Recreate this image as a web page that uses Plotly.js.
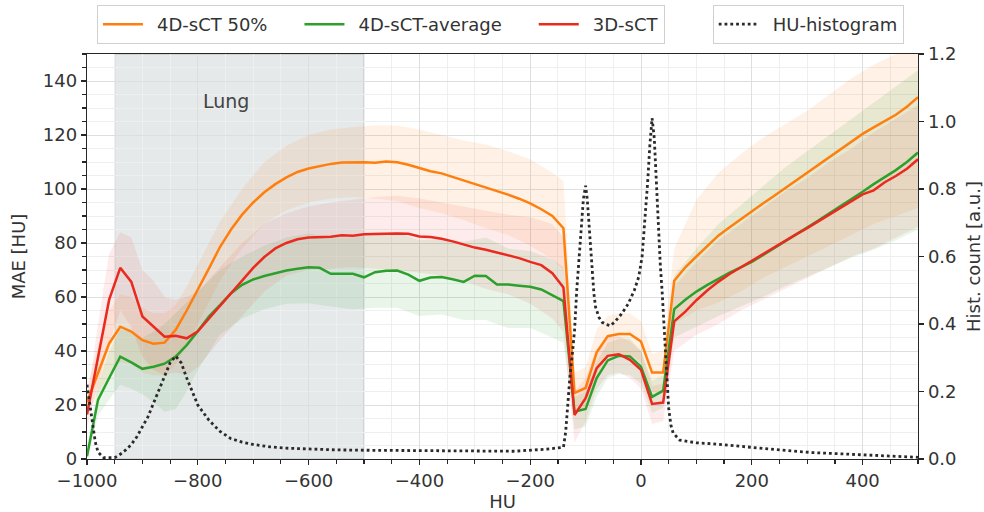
<!DOCTYPE html>
<html>
<head>
<meta charset="utf-8">
<script src="https://cdn.plot.ly/plotly-3.0.1.min.js"></script>
<style>html,body{margin:0;padding:0;background:#fff;}#chart{width:984px;height:512px;}</style>
</head>
<body>
<div id="chart"></div>
<script>
// HU bin centres for the MAE curves
const hu = [-1000,-980,-960,-940,-920,-900,-880,-860,-840,-820,-800,
  -780,-760,-740,-720,-700,-680,-660,-640,-620,-600,
  -580,-560,-540,-520,-500,-480,-460,-440,-420,-400,
  -380,-360,-340,-320,-300,-280,-260,-240,-220,-200,
  -180,-160,-140,-120,-100,-80,-60,-40,-20,0,
  20,40,60,80,100,120,140,160,180,200,
  220,240,260,280,300,320,340,360,380,400,
  420,440,460,480,500];

const mae4d50 = [21,32,42.8,49,47.2,44,42.7,43.1,47.8,55,62.5,
  70.5,78.5,85,90.5,95,98.8,101.8,104.3,106.3,107.6,
  108.5,109.3,109.8,109.9,109.9,109.7,110.2,109.9,109,107.8,
  106.6,105.8,104.5,103.2,101.8,100.5,99.2,97.9,96.4,94.7,
  92.5,90,85.5,24.5,26.3,39.5,45.5,46.3,46.3,43.5,
  32,32,66,71,75,79,82.8,85.8,88.8,91.7,
  94.6,97.4,100.3,103.1,106,108.9,111.7,114.6,117.6,120.4,
  122.8,125.2,127.5,130.5,134];

const mae4dAvg = [1,22,30,37.9,35.8,33.4,34.2,35.3,37.9,42.2,47.3,
  52.8,57,61.4,64.5,66.5,67.8,68.8,69.8,70.5,71,
  70.8,68.6,68.6,68.6,67.3,69.2,69.7,69.8,68.3,66,
  67.2,67.4,66.6,65.6,67.9,67.8,64.6,64.6,64.2,63.8,
  62.8,60.8,58.5,17.5,18.5,30,36.5,38.2,38,34.2,
  23,25.3,55.5,59,62,64.5,66.8,69,71,73,
  75.5,78,80.5,83,85.7,88.3,91,93.6,96.3,99,
  101.8,104.3,107,110,113.5];

const mae3d = [16.5,38,59,70.8,65.6,52.8,49,45.3,45.6,44.7,47.3,
  52,56.8,61.8,66.3,70.8,74.8,78,80,81.4,82,
  82.2,82.3,82.9,82.7,83.2,83.3,83.5,83.5,83.4,82.4,
  82.2,81.6,80.6,79.4,78.3,77.5,76.5,75.5,74.4,73,
  71.8,68.8,63.5,16.3,22.5,33.6,38.2,38.8,36.7,33,
  20.4,20.9,51,54.6,58.8,62.5,65.7,68.5,71,73.5,
  76,78.3,80.8,83.2,85.5,88,90.5,92.8,95.3,98,
  99.5,102.5,104.8,107.5,111];

// spread bands (sampled more coarsely)
const bandHu = [-1000,-980,-960,-940,-920,-900,-880,-860,-840,-820,-800,
  -760,-720,-680,-640,-600,-560,-520,-480,-440,-400,-360,-320,-280,-240,-200,-160,
  -140,-120,-100,-80,-60,-40,-20,0,20,40,60,
  100,140,180,220,260,300,340,380,420,460,500];

const band4d50Hi = [26,42,55,61,60,56,54,54,57,64,72,
  88,100,110,116,120,122,123,123.5,123.5,122,120,118,116.5,114,111,106,
  103,32,34,48,53,54,54,51,39,40,78,
  96,106,113,119,124,129,135,141,146,150,153];
const band4d50Lo = [17,24,31,36,35,32,31,31,35,42,50,
  66,78,87,92,95,96.5,97,96.5,95.5,93,91,88.5,85.5,83,79,74,
  70,17,19,31,38,38.5,38.5,36,25,24,50,
  55,58,62,67,71,75,79,83,87,90,93];

const band3dHi = [22,50,76,84,82,70,66,60,59,60,62,
  71,80,87,91,93.5,95,96,97,97.5,96.5,95,93.5,92,90.5,89.5,87,
  82,25,30,41,45,45.5,43.5,40,27,28,64,
  73,81,87,93,99,104,110,115,121,126,131];
const band3dLo = [12,27,43,55,49,38,33,31,32,31,34,
  44,53,62,68,70,70.5,71,70.5,70,69,68,66,63,61,57.5,52,
  47,6,14,26,31,32,30,26,13,14,40,
  46,50,55,59,63,67,71,75,78,82,86];

const band4dAvgHi = [4,28,40,48,47,45,47,50,54,58,62,
  70,75,79,82,83.5,82,82,84,84,81,81.5,80.5,82,78,77,74,
  71,23,25,36,43,44.5,44.5,40,29,31,68,
  78,87,94,101,108,114,120,126,132,138,144];
const band4dAvgLo = [0,16,22,27.5,26,24,21,17.5,18.5,25,33,
  46,52,55.5,57.5,57.7,56.5,55.5,56,56,53,53.5,51.5,51.5,48.5,48.5,45,
  43,11,12,23,30,31.5,31,28,17,19,45,
  49,53,56.5,60,64,67.5,71,74.5,77.5,81,85];

// HU histogram (normalised count)
const histHu = [-1000,-995,-990,-985,-980,-970,-950,-940,-930,-920,-910,-900,
  -890,-880,-870,-860,-850,-840,-830,-820,-810,-800,-780,-760,-740,-720,-700,
  -670,-640,-600,-550,-500,-400,-300,-230,-170,-140,-136,-132,-128,-124,-120,
  -116,-112,-108,-104,-100,-97,-94,-91,-88,-85,-82,-76,-70,-62,-55,-47,-35,
  -23,-12,-4,2,7,12,16,20,24,28,32,35,38,42,46,50,54,58,70,100,130,190,250,
  310,370,430,490,500];
const histCount = [0.22,0.16,0.1,0.05,0.02,0.004,0.004,0.014,0.027,0.043,0.066,0.095,
  0.125,0.165,0.205,0.25,0.285,0.305,0.285,0.24,0.2,0.16,0.115,0.082,0.06,0.05,0.043,
  0.036,0.032,0.029,0.027,0.026,0.025,0.023,0.023,0.029,0.035,0.08,0.17,0.25,0.31,0.38,
  0.5,0.6,0.7,0.77,0.81,0.77,0.7,0.62,0.55,0.49,0.45,0.42,0.405,0.398,0.395,0.407,0.43,
  0.46,0.5,0.54,0.6,0.7,0.82,0.93,1.01,0.95,0.8,0.66,0.57,0.5,0.39,0.25,0.15,0.1,0.077,
  0.056,0.048,0.045,0.035,0.027,0.019,0.014,0.009,0.005,0.005];

const seriesNames = ['4D-sCT 50%', '4D-sCT-average', '3D-sCT'];
const histName = 'HU-histogram';
const lungRange = [-950, -500];
const lungLabel = 'Lung';

const C_ORANGE = '#ff7f0e', C_GREEN = '#2ca02c', C_RED = '#ea2a1e';
const FONT = 'DejaVu Sans, sans-serif';
const TXT = '#333333';
const LEAD = '\u2002';            // small lead-in gap after the legend line sample
const TRAIL = '\u2002\u2002\u2002'; // wider spacing between legend entries

function band(hi, lo, color) {
  return {
    x: bandHu.concat(bandHu.slice().reverse()),
    y: hi.concat(lo.slice().reverse()),
    type: 'scatter', mode: 'lines', fill: 'toself',
    fillcolor: color, line: {width: 0}, hoverinfo: 'skip', showlegend: false
  };
}

const traces = [
  band(band4d50Hi, band4d50Lo, 'rgba(255,127,14,0.11)'),
  band(band4dAvgHi, band4dAvgLo, 'rgba(44,160,44,0.11)'),
  band(band3dHi, band3dLo, 'rgba(234,42,30,0.09)'),
  {x: hu, y: mae4d50, type: 'scatter', mode: 'lines', name: LEAD + seriesNames[0] + TRAIL,
   line: {color: C_ORANGE, width: 2.5}},
  {x: hu, y: mae4dAvg, type: 'scatter', mode: 'lines', name: LEAD + seriesNames[1] + TRAIL,
   line: {color: C_GREEN, width: 2.5}},
  {x: hu, y: mae3d, type: 'scatter', mode: 'lines', name: LEAD + seriesNames[2],
   line: {color: C_RED, width: 2.5}},
  {x: histHu, y: histCount, type: 'scatter', mode: 'lines', name: LEAD + histName,
   yaxis: 'y2', legend: 'legend2',
   line: {color: '#2a2a2a', width: 2.8, dash: '2.8px,3px'}}
];

const axisCommon = {
  showline: true, linecolor: '#262626', linewidth: 1.3,
  ticks: 'outside', ticklen: 5, tickwidth: 1.2, tickcolor: '#262626',
  tickfont: {family: FONT, size: 18, color: TXT},
  zeroline: false
};

const layout = {
  width: 984, height: 512,
  margin: {l: 87, r: 66, t: 54, b: 53, autoexpand: false},
  paper_bgcolor: '#ffffff', plot_bgcolor: '#ffffff',
  font: {family: FONT, size: 18, color: TXT},
  xaxis: Object.assign({}, axisCommon, {
    range: [-1000, 500], tick0: 0, dtick: 200, mirror: true,
    showgrid: true, gridcolor: '#dcdfdf', gridwidth: 1,
    minor: {dtick: 50, tick0: 0, ticks: 'outside', ticklen: 3.5, tickcolor: '#262626',
            showgrid: true, gridcolor: '#eef0f0', gridwidth: 1},
    title: {text: 'HU', font: {family: FONT, size: 18, color: TXT}, standoff: 9}
  }),
  yaxis: Object.assign({}, axisCommon, {
    range: [0, 150], tick0: 0, dtick: 20,
    showgrid: true, gridcolor: '#dcdfdf', gridwidth: 1,
    minor: {dtick: 5, tick0: 0, ticks: 'outside', ticklen: 3.5, tickcolor: '#262626',
            showgrid: true, gridcolor: '#eef0f0', gridwidth: 1},
    title: {text: 'MAE [HU]', font: {family: FONT, size: 18, color: TXT}, standoff: 12}
  }),
  yaxis2: Object.assign({}, axisCommon, {
    overlaying: 'y', side: 'right', range: [0, 1.2], tick0: 0, dtick: 0.2,
    tickformat: '.1f', showgrid: false,
    title: {text: 'Hist. count [a.u.]', font: {family: FONT, size: 18, color: TXT}, standoff: 18}
  }),
  shapes: [{
    type: 'rect', xref: 'x', yref: 'paper', x0: lungRange[0], x1: lungRange[1], y0: 0, y1: 1,
    fillcolor: '#e6e9ea', line: {color: '#b9bec0', width: 1}, layer: 'below'
  }],
  annotations: [{
    x: -750, xref: 'x', y: 132.6, yref: 'y',
    text: lungLabel, showarrow: false, xanchor: 'center', yanchor: 'middle',
    font: {family: FONT, size: 19, color: '#444444'}
  }],
  legend: {
    orientation: 'h', x: 0.012, y: 1.121, xanchor: 'left', yanchor: 'top',
    bgcolor: 'rgba(255,255,255,0.85)', bordercolor: '#d0d0d0', borderwidth: 1,
    font: {family: FONT, size: 18, color: TXT}, itemwidth: 40
  },
  legend2: {
    orientation: 'h', x: 0.753, y: 1.121, xanchor: 'left', yanchor: 'top',
    bgcolor: 'rgba(255,255,255,0.85)', bordercolor: '#d0d0d0', borderwidth: 1,
    font: {family: FONT, size: 18, color: TXT}, itemwidth: 40
  },
  showlegend: true
};

Plotly.newPlot('chart', traces, layout, {staticPlot: true, displayModeBar: false});
</script>
</body>
</html>
